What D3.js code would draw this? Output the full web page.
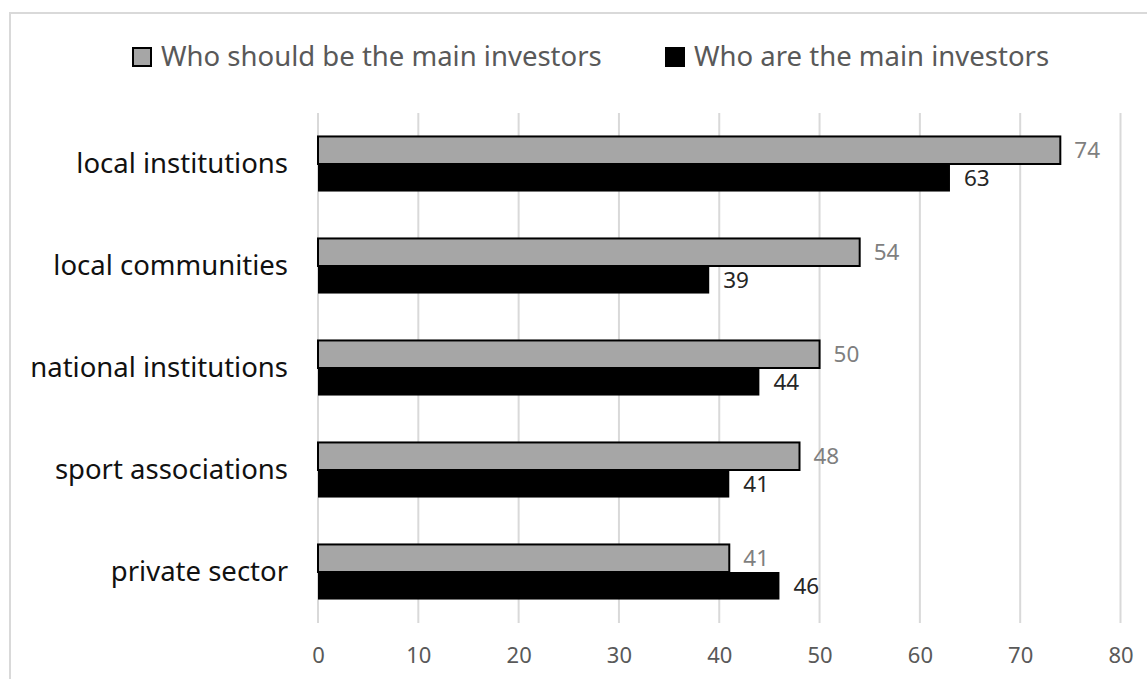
<!DOCTYPE html>
<html>
<head>
<meta charset="utf-8">
<script src="https://cdn.jsdelivr.net/npm/d3@7"></script>
<style>
  body { margin: 0; background: #fff; }
  svg { display: block; font-family: "Noto Sans", "Open Sans", sans-serif; }
</style>
</head>
<body>
<svg></svg>
<script>
// data
var categories = ["local institutions", "local communities", "national institutions", "sport associations", "private sector"];
var seriesNames = ["Who should be the main investors", "Who are the main investors"];
var shouldBe = [74, 54, 50, 48, 41];
var actuallyAre = [63, 39, 44, 41, 46];
var xTicks = [0, 10, 20, 30, 40, 50, 60, 70, 80];

var width = 1147, height = 679;
var margin = {top: 113, right: 26.5, bottom: 56, left: 318};
var font = '"Noto Sans", "Open Sans", sans-serif';

var svg = d3.select("svg")
    .attr("width", width)
    .attr("height", height);

// chart border
svg.append("rect")
    .attr("x", 10).attr("y", 13)
    .attr("width", width + 20).attr("height", height + 20)
    .attr("fill", "none")
    .attr("stroke", "#d9d9d9")
    .attr("stroke-width", 2);

var x = d3.scaleLinear()
    .domain([0, 80])
    .range([margin.left, width - margin.right]);

var y = d3.scaleBand()
    .domain(categories)
    .range([margin.top, height - margin.bottom])
    .paddingInner(0.46)
    .paddingOuter(0.23);

var ySub = d3.scaleBand()
    .domain(seriesNames)
    .range([0, y.bandwidth()]);

var colors = {};
colors[seriesNames[0]] = "#a6a6a6";
colors[seriesNames[1]] = "#000000";

// gridlines
svg.append("g")
  .selectAll("line")
  .data(xTicks)
  .enter()
  .append("line")
    .attr("x1", d => x(d)).attr("x2", d => x(d))
    .attr("y1", margin.top).attr("y2", height - margin.bottom)
    .attr("stroke", "#d9d9d9")
    .attr("stroke-width", 2);

// x axis labels
var xAxis = d3.axisBottom(x).tickValues(xTicks).tickSize(0).tickPadding(0);
var gx = svg.append("g")
    .attr("transform", "translate(0," + (height - margin.bottom) + ")")
    .call(xAxis)
    .attr("font-family", font);
gx.select(".domain").remove();
gx.selectAll("text")
    .attr("y", 32)
    .attr("dy", "0.35em")
    .attr("fill", "#595959")
    .style("font-size", "22px");

// y axis labels
var yAxis = d3.axisLeft(y).tickSize(0).tickPadding(30);
var gy = svg.append("g")
    .attr("transform", "translate(" + margin.left + ",0)")
    .call(yAxis)
    .attr("font-family", font);
gy.select(".domain").remove();
gy.selectAll("text")
    .attr("fill", "#111")
    .style("font-size", "27.5px");

var rows = categories.map(function(c, i) {
  return {cat: c, values: [
    {name: seriesNames[0], value: shouldBe[i]},
    {name: seriesNames[1], value: actuallyAre[i]}
  ]};
});

var groups = svg.append("g")
  .selectAll("g")
  .data(rows)
  .enter()
  .append("g")
    .attr("transform", d => "translate(0," + y(d.cat) + ")");

// black bars first so the grey outline sits on top
groups.selectAll("rect")
  .data(d => d.values.slice().reverse())
  .enter()
  .append("rect")
    .attr("x", x(0))
    .attr("y", d => ySub(d.name))
    .attr("width", d => x(d.value) - x(0))
    .attr("height", ySub.bandwidth())
    .attr("fill", d => colors[d.name])
    .attr("stroke", d => d.name == seriesNames[0] ? "#000" : "none")
    .attr("stroke-width", 2);

groups.selectAll("text.val")
  .data(d => d.values)
  .enter()
  .append("text")
    .attr("class", "val")
    .attr("x", d => x(d.value) + 14)
    .attr("y", d => ySub(d.name) + ySub.bandwidth() / 2)
    .attr("dy", "0.35em")
    .attr("fill", d => d.name == seriesNames[0] ? "#7f7f7f" : "#262626")
    .style("font-size", "22.5px")
    .text(d => d.value);

// legend
var legendItems = [{name: seriesNames[0], x: 132}, {name: seriesNames[1], x: 665}];
var legend = svg.append("g")
  .selectAll("g")
  .data(legendItems)
  .enter()
  .append("g")
    .attr("transform", d => "translate(" + d.x + ",47)");

legend.append("rect")
    .attr("x", 1).attr("y", 1)
    .attr("width", 18).attr("height", 18)
    .attr("fill", d => colors[d.name])
    .attr("stroke", "#000")
    .attr("stroke-width", 2);

legend.append("text")
    .attr("x", 29)
    .attr("y", 19)
    .attr("fill", "#595959")
    .style("font-size", "27.5px")
    .text(d => d.name);
</script>
</body>
</html>
